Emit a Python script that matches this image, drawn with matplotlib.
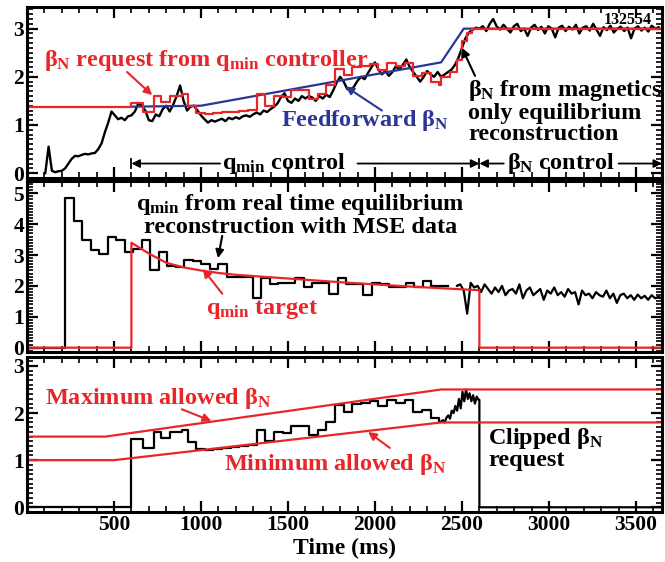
import numpy as np
import matplotlib
matplotlib.use("Agg")
import matplotlib.pyplot as plt
from matplotlib.ticker import MultipleLocator

# fonte serif em negrito, parecida com Times
plt.rcParams["font.family"] = ["Liberation Serif", "DejaVu Serif"]
plt.rcParams["font.weight"] = "bold"
plt.rcParams["axes.labelweight"] = "bold"
plt.rcParams["mathtext.fontset"] = "custom"
plt.rcParams["mathtext.rm"] = "Liberation Serif:bold"
plt.rcParams["mathtext.it"] = "Liberation Serif:bold"
plt.rcParams["mathtext.bf"] = "Liberation Serif:bold"

VERM = "#e8262a"
AZUL = "#2b3595"
FS = 17.5

# ---------------- dados: painel de cima (beta_N) ----------------
# beta_N medido (magnetics), em trechos
bn_seg1 = [0.0, 0.55, 0.05, 0.02, 0.04, 0.05, 0.1, 0.2, 0.3, 0.36, 0.35, 0.38, 0.4, 0.39,
           0.41, 0.42, 0.5, 0.62, 0.85, 1.05, 1.28, 1.2, 1.12, 1.15, 1.1, 1.18]
bn_seg2 = [1.2, 1.28, 1.45, 1.4, 1.3, 1.1, 1.08, 1.22, 1.18, 1.33, 1.4, 1.28, 1.42, 1.6,
           1.82, 1.5, 1.3, 1.38, 1.4, 1.3, 1.2, 1.12, 1.05, 1.1, 1.07]
bn_seg3 = [1.1, 1.13, 1.08, 1.15, 1.12, 1.16, 1.13, 1.18, 1.2, 1.17, 1.22, 1.26, 1.22, 1.3,
           1.27, 1.33, 1.38, 1.45, 1.58, 1.66, 1.5, 1.46, 1.55, 1.5, 1.6]
bn_seg4 = [1.55, 1.6, 1.57, 1.5, 1.6, 1.55, 1.63, 1.58, 1.72, 1.88, 2.0, 1.9, 1.75, 1.72,
           1.8, 1.92, 2.0, 1.95, 2.08, 2.2, 2.3, 2.15, 2.05, 2.12, 2.02]
bn_seg5 = [2.1, 2.22, 2.15, 2.25, 2.36, 2.2, 2.1, 2.0, 1.9, 2.0, 2.12, 2.05, 2.0, 2.1,
           2.0, 2.05, 2.1, 2.15, 2.25, 2.4, 2.6, 2.8, 2.92, 2.97, 3.02]
bn_seg6 = [3.0, 3.05, 2.95, 3.1, 3.2, 3.05, 2.98, 3.08, 3.0, 2.92, 3.05, 3.1, 2.95, 3.0,
           2.85, 3.02, 3.08, 2.97, 3.04, 2.9, 3.05, 3.0, 2.82, 3.02, 3.06, 2.95, 3.04, 2.98,
           3.08, 2.9, 3.02, 3.05, 2.96, 3.1, 2.98, 2.85, 3.03, 2.97, 3.06, 2.92, 3.0, 3.04,
           2.95, 3.02, 2.8, 3.0, 3.05, 2.96, 3.02, 2.94, 3.06, 3.0, 3.03]
bn_limites = [105, 600, 1100, 1600, 2100, 2600, 3650]

# feedforward
ff_t = [600, 1000, 2380, 2510, 3650]
ff_v = [1.38, 1.4, 2.3, 3.0, 3.0]

# pedido de beta_N (controlador de qmin), degraus
req_t = [600, 668, 729, 773, 821, 888, 926, 974, 1021, 1071, 1121, 1171, 1221, 1271,
         1320, 1370, 1420, 1470, 1520, 1570, 1620, 1670, 1720, 1770, 1820, 1870, 1920,
         1970, 2020, 2070, 2120, 2170, 2220, 2270, 2320, 2370]
req_v = [1.45, 1.26, 1.6, 1.47, 1.6, 1.65, 1.39, 1.24, 1.22, 1.24, 1.26, 1.28, 1.3, 1.32,
         1.65, 1.4, 1.6, 1.58, 1.72, 1.72, 1.54, 1.65, 1.82, 2.17, 2.03, 2.2, 2.22,
         2.26, 2.15, 2.28, 2.22, 2.28, 2.02, 2.07, 1.89, 1.82]
req_antes = 1.37
req_fim_t = [2380, 2430, 2470, 2500, 2530, 2560, 3650]
req_fim_v = [2.0, 2.1, 2.35, 2.75, 2.92, 3.0, 3.0]

# ---------------- painel do meio (qmin) ----------------
qmin_v = [4.85, 4.1, 3.5, 3.15, 3.05, 3.6, 3.5, 3.1, 3.2, 3.5, 2.5, 3.1, 2.65, 2.6,
          2.85, 2.8, 2.7, 2.55, 2.7, 2.3, 2.3, 2.3, 1.6, 2.25, 2.05, 2.1, 2.1, 2.25,
          1.95, 2.1, 2.1, 1.75, 2.25, 2.05, 2.05, 1.7, 2.1, 2.05, 1.95, 1.95, 2.1,
          1.95, 2.15, 2.0, 2.0, 2.0]
qmin_ruido = [2.0, 2.05, 1.85, 1.1, 2.1, 1.95, 2.0, 1.8, 2.05, 1.9, 1.75, 1.95, 1.8, 2.0,
              1.7, 1.85, 1.9, 1.75, 2.05, 1.6, 1.85, 1.95, 1.7, 1.8, 1.9, 1.55, 1.85,
              1.75, 1.95, 1.7, 1.8, 1.65, 1.9, 1.75, 1.8, 1.4, 1.85, 1.7, 1.75, 1.6, 1.8,
              1.7, 1.65, 1.85, 1.6, 1.75, 1.45, 1.7, 1.75, 1.6, 1.7, 1.55, 1.72, 1.6,
              1.68, 1.55, 1.7, 1.6, 1.65, 1.58]

alvo_t = [0, 600, 600, 700, 800, 900, 1000, 1100, 1200, 1400, 1600, 1800, 2000, 2200,
          2400, 2600, 2600, 3650]
alvo_v = [0, 0, 3.4, 3.05, 2.75, 2.6, 2.5, 2.42, 2.36, 2.28, 2.2, 2.12, 2.05, 1.98,
          1.92, 1.86, 0, 0]

# ---------------- painel de baixo (limites) ----------------
max_t = [0, 450, 2380, 3650]
max_v = [1.5, 1.5, 2.5, 2.5]
min_t = [0, 500, 2380, 3650]
min_v = [1.0, 1.0, 1.8, 1.8]
clip_ruido = [1.82, 1.85, 1.8, 1.9, 1.95, 1.88, 2.05, 2.0, 2.15, 2.05, 2.3, 2.1, 2.45, 2.25,
              2.5, 2.3, 2.42, 2.25, 2.38, 2.2, 2.35, 2.28]


def junta_trechos(trechos, limites):
    tt, vv = [], []
    for k, seg in enumerate(trechos):
        tt.append(np.linspace(limites[k], limites[k + 1], len(seg), endpoint=False))
        vv.append(seg)
    return np.concatenate(tt), np.concatenate(vv)


bn_t, bn_v = junta_trechos([bn_seg1, bn_seg2, bn_seg3, bn_seg4, bn_seg5, bn_seg6], bn_limites)

fig = plt.figure(figsize=(6.65, 5.62), dpi=100)
ax1 = fig.add_axes([0.0406, 0.6833, 0.955, 0.3043])
ax2 = fig.add_axes([0.0406, 0.3737, 0.955, 0.3043])
ax3 = fig.add_axes([0.0406, 0.0890, 0.955, 0.2758])

for ax in (ax1, ax2, ax3):
    ax.set_xlim(0, 3650)
    for s in ax.spines.values():
        s.set_linewidth(2.2)
    ax.xaxis.set_major_locator(MultipleLocator(500))
    ax.xaxis.set_minor_locator(MultipleLocator(100))
    ax.yaxis.set_major_locator(MultipleLocator(1))
    ax.yaxis.set_minor_locator(MultipleLocator(0.1))
    ax.tick_params(which="both", direction="in", top=True, right=True, labelsize=15.5, pad=2)
    ax.tick_params(which="major", length=8, width=1.6)
    ax.tick_params(which="minor", length=4, width=1.2)
    ax.set_xticks([500, 1000, 1500, 2000, 2500, 3000, 3500])

ax1.tick_params(labelbottom=False)
ax2.tick_params(labelbottom=False)

# ----- painel 1 -----
ax1.plot(bn_t, bn_v, color="black", lw=1.7)
ax1.plot(ff_t, ff_v, color=AZUL, lw=1.6)
r_t = [0] + req_t + req_fim_t
r_v = [req_antes] + req_v + req_fim_v
ax1.step(r_t, r_v, where="post", color=VERM, lw=1.6)
ax1.set_ylim(-0.1, 3.45)
ax1.set_yticks([0, 1, 2, 3])

seta = dict(arrowstyle="-|>", lw=1.5, mutation_scale=12, shrinkA=0, shrinkB=0)
ax1.text(95, 2.33, r"β$_{\rm N}$ request from q$_{\rm min}$ controller", color=VERM,
         fontsize=FS, va="center")
ax1.annotate("", xy=(720, 1.62), xytext=(575, 2.1), arrowprops=dict(seta, color=VERM))
ax1.text(1460, 1.1, r"Feedforward β$_{\rm N}$", color=AZUL, fontsize=FS, va="center")
ax1.annotate("", xy=(1830, 1.8), xytext=(2040, 1.3), arrowprops=dict(seta, color=AZUL))
ax1.text(2535, 1.27, "β$_{\\rm N}$ from magnetics\nonly equilibrium\nreconstruction",
         color="black", fontsize=FS, va="center", linespacing=1.0)
ax1.annotate("", xy=(2500, 2.6), xytext=(2575, 2.02), arrowprops=dict(seta, color="black"))
ax1.text(3590, 3.17, "132554", fontsize=11.5, ha="right", va="center")

# linha de controle qmin / beta_N
yc = 0.2
ax1.plot([600, 600], [0.1, 0.3], color="black", lw=1.3)
ax1.plot([2600, 2600], [0.1, 0.3], color="black", lw=1.3)
ax1.annotate("", xy=(600, yc), xytext=(1110, yc), arrowprops=dict(seta, color="black", lw=1.3))
ax1.text(1480, yc, r"q$_{\rm min}$ control", fontsize=FS, ha="center", va="center")
ax1.annotate("", xy=(2600, yc), xytext=(1900, yc), arrowprops=dict(seta, color="black", lw=1.3))
ax1.annotate("", xy=(2600, yc), xytext=(2740, yc), arrowprops=dict(seta, color="black", lw=1.3))
ax1.text(3065, yc, r"β$_{\rm N}$ control", fontsize=FS, ha="center", va="center")
ax1.annotate("", xy=(3650, yc), xytext=(3400, yc), arrowprops=dict(seta, color="black", lw=1.3))

# ----- painel 2 -----
q_t = np.linspace(220, 2470, len(qmin_v), endpoint=False)
q_t = np.concatenate([[0], q_t])
q_v = np.concatenate([[0], qmin_v])
ax2.step(q_t, q_v, where="post", color="black", lw=1.6)
qr_t = np.linspace(2470, 3650, len(qmin_ruido))
ax2.plot(np.concatenate([[q_t[-1] + 50], qr_t]), np.concatenate([[qmin_v[-1]], qmin_ruido]),
         color="black", lw=1.6)
ax2.plot(alvo_t, alvo_v, color=VERM, lw=1.6)
ax2.set_ylim(-0.14, 5.4)
ax2.set_yticks([0, 1, 2, 3, 4, 5])
ax2.text(1570, 4.3, "q$_{\\rm min}$ from real time equilibrium\nreconstruction with MSE data",
         fontsize=FS, ha="center", va="center", linespacing=0.95)
ax2.annotate("", xy=(1098, 2.9), xytext=(1122, 3.62), arrowprops=dict(seta, color="black"))
ax2.text(1350, 1.23, r"q$_{\rm min}$ target", color=VERM, fontsize=FS, ha="center", va="center")
ax2.annotate("", xy=(1010, 2.55), xytext=(1122, 1.75), arrowprops=dict(seta, color=VERM))

# ----- painel 3 -----
c_t = [0] + req_t + [2380]
c_v = [0] + req_v + [req_v[-1]]
ax3.step(c_t, c_v, where="post", color="black", lw=1.6)
cr_t = list(np.linspace(2380, 2595, len(clip_ruido))) + [2600, 2600, 3650]
cr_v = clip_ruido + [clip_ruido[-1], 0, 0]
ax3.plot(cr_t, cr_v, color="black", lw=1.6)
ax3.plot(max_t, max_v, color=VERM, lw=1.6)
ax3.plot(min_t, min_v, color=VERM, lw=1.6)
ax3.set_ylim(-0.1, 3.19)
ax3.set_yticks([0, 1, 2, 3])
ax3.text(105, 2.31, r"Maximum allowed β$_{\rm N}$", color=VERM, fontsize=FS, va="center")
ax3.annotate("", xy=(1060, 1.83), xytext=(890, 2.08), arrowprops=dict(seta, color=VERM))
ax3.text(1130, 0.91, r"Minimum allowed β$_{\rm N}$", color=VERM, fontsize=FS, va="center")
ax3.annotate("", xy=(1960, 1.6), xytext=(2085, 1.26), arrowprops=dict(seta, color=VERM))
ax3.text(2650, 1.25, "Clipped β$_{\\rm N}$\nrequest", fontsize=FS, va="center", linespacing=0.95)
ax3.set_xlabel("Time (ms)", fontsize=17, fontweight="bold", labelpad=2)

plt.savefig("out.png", dpi=100)
